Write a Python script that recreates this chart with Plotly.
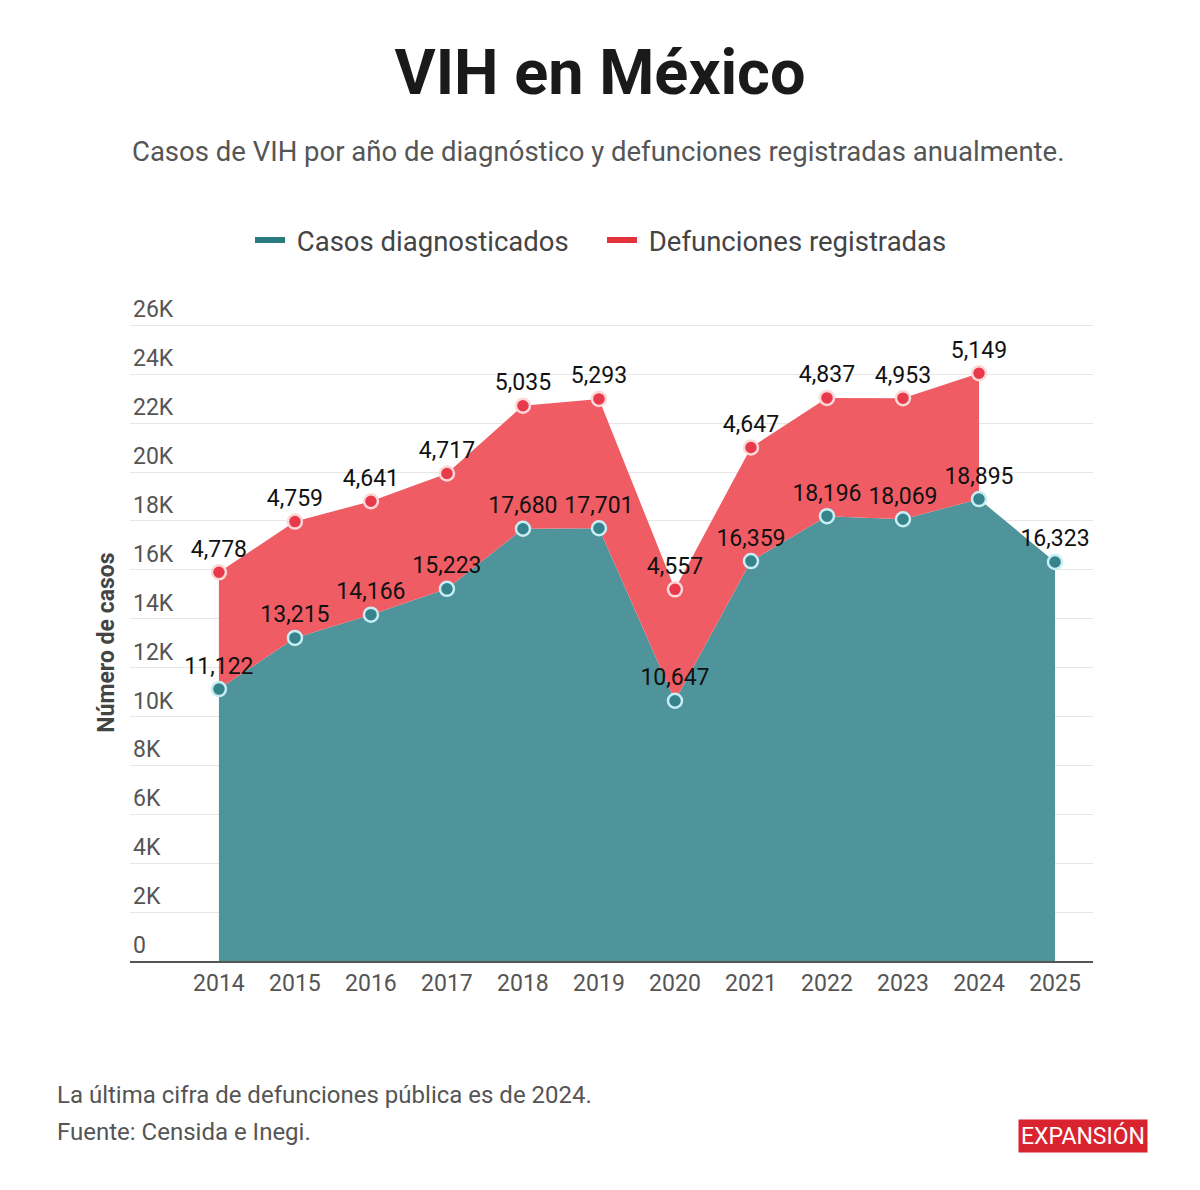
import plotly.graph_objects as go

# datos
years = [2014, 2015, 2016, 2017, 2018, 2019, 2020, 2021, 2022, 2023, 2024, 2025]
casos = [11122, 13215, 14166, 15223, 17680, 17701, 10647, 16359, 18196, 18069, 18895, 16323]
def_years = [2014, 2015, 2016, 2017, 2018, 2019, 2020, 2021, 2022, 2023, 2024]
defunciones = [4778, 4759, 4641, 4717, 5035, 5293, 4557, 4647, 4837, 4953, 5149]
y_ticks = [0, 2000, 4000, 6000, 8000, 10000, 12000, 14000, 16000, 18000, 20000, 22000, 24000, 26000]
y_tick_labels = ['0', '2K', '4K', '6K', '8K', '10K', '12K', '14K', '16K', '18K', '20K', '22K', '24K', '26K']

TEAL_AREA = '#50949b'
RED_AREA = '#f05c64'
FONT = 'Roboto'

W, H = 1200, 1190
OFF = 8  # margen del body de la página
L, R, T, B = 122, 115, 265, 237


# píxeles de pantalla -> coordenadas paper
def px(x):
    return (x - OFF - L) / (W - L - R)


def py(y):
    return (H - B - (y - OFF)) / (H - T - B)


casos_base = casos[:len(def_years)]
total = [c + d for c, d in zip(casos_base, defunciones)]

fig = go.Figure()

# área de casos
fig.add_trace(go.Scatter(
    x=years, y=casos, mode='lines', fill='tozeroy',
    fillcolor=TEAL_AREA, line=dict(color=TEAL_AREA, width=0),
    showlegend=False, hoverinfo='skip'))

# base auxiliar para el área roja (solo hasta 2024)
fig.add_trace(go.Scatter(
    x=def_years, y=casos_base, mode='lines',
    line=dict(color=TEAL_AREA, width=0),
    showlegend=False, hoverinfo='skip'))

# área de defunciones apilada
fig.add_trace(go.Scatter(
    x=def_years, y=total, mode='lines', fill='tonexty',
    fillcolor=RED_AREA, line=dict(color=RED_AREA, width=0),
    showlegend=False, hoverinfo='skip'))

# puntos y etiquetas
fig.add_trace(go.Scatter(
    x=years, y=casos, mode='markers+text',
    marker=dict(size=14, color='#37838c', line=dict(color='#c6eff5', width=2.5)),
    text=[f'{v:,}' for v in casos], textposition='top center',
    textfont=dict(family=FONT, size=23, color='#111'),
    showlegend=False, hovertemplate='%{x}: %{text}<extra>Casos</extra>'))

fig.add_trace(go.Scatter(
    x=def_years, y=total, mode='markers+text',
    marker=dict(size=14, color='#e83a4a', line=dict(color='#fcd9d9', width=2.5)),
    text=[f'{v:,}' for v in defunciones], textposition='top center',
    textfont=dict(family=FONT, size=23, color='#111'),
    showlegend=False, hovertemplate='%{x}: %{text}<extra>Defunciones</extra>'))

# leyenda
fig.add_trace(go.Scatter(x=[None], y=[None], mode='lines',
                         line=dict(color='#2a7b80', width=6),
                         name='\u00a0Casos diagnosticados'))
fig.add_trace(go.Scatter(x=[None], y=[None], mode='lines',
                         line=dict(color='#e5323f', width=6),
                         name='\u00a0Defunciones registradas'))

fig.update_layout(
    width=W, height=H,
    paper_bgcolor='white', plot_bgcolor='white',
    margin=dict(l=L, r=R, t=T, b=B),
    font=dict(family=FONT, color='#444'),
    title=dict(text='<b>VIH en México</b>', x=(600 - OFF) / W, xanchor='center', xref='container',
               y=1 - (72 - OFF) / H, yanchor='middle', yref='container',
               font=dict(family=FONT, size=63, color='#1a1a1a')),
    legend=dict(orientation='h', xref='container', x=(250 - OFF) / W, xanchor='left',
                yref='container', y=1 - (240 - OFF) / H, yanchor='middle',
                font=dict(family=FONT, size=27.5, color='#444'),
                itemwidth=30, traceorder='normal',
                entrywidth=307, entrywidthmode='pixels'),
    xaxis=dict(range=[2012.83, 2025.5], tickvals=years, showgrid=False,
               showline=True, linecolor='#555', linewidth=1.5,
               ticks='outside', ticklen=1, tickcolor='rgba(0,0,0,0)',
               tickfont=dict(family=FONT, size=23, color='#555'), zeroline=False),
    yaxis=dict(range=[0, 28000], tickvals=y_ticks, ticktext=y_tick_labels,
               ticklabelposition='inside top', showgrid=True, gridcolor='#e6e6e6',
               gridwidth=1, zeroline=False, showline=False,
               tickfont=dict(family=FONT, size=23, color='#555')),
    showlegend=True,
    hovermode='closest',
)

fig.add_annotation(text='Casos de VIH por año de diagnóstico y defunciones registradas anualmente.',
                   xref='paper', yref='paper', x=px(598), y=py(147),
                   xanchor='center', yanchor='middle', showarrow=False,
                   font=dict(family=FONT, size=27.5, color='#555'))

fig.add_annotation(text='<b>Número de casos</b>', textangle=-90,
                   xref='paper', yref='paper', x=px(107), y=py(641),
                   xanchor='center', yanchor='middle', showarrow=False,
                   font=dict(family=FONT, size=23, color='#444'))

fig.add_annotation(text='La última cifra de defunciones pública es de 2024.',
                   xref='paper', yref='paper', x=px(55), y=py(1096),
                   xanchor='left', yanchor='middle', showarrow=False,
                   font=dict(family=FONT, size=24, color='#555'))
fig.add_annotation(text='Fuente: Censida e Inegi.',
                   xref='paper', yref='paper', x=px(55), y=py(1133),
                   xanchor='left', yanchor='middle', showarrow=False,
                   font=dict(family=FONT, size=24, color='#555'))
fig.add_annotation(text='EXPANSIÓN',
                   xref='paper', yref='paper', x=px(1148), y=py(1137),
                   xanchor='right', yanchor='middle', showarrow=False,
                   bgcolor='#d9232f', borderpad=2,
                   font=dict(family=FONT, size=23, color='white'))

fig.write_html("out.html")
